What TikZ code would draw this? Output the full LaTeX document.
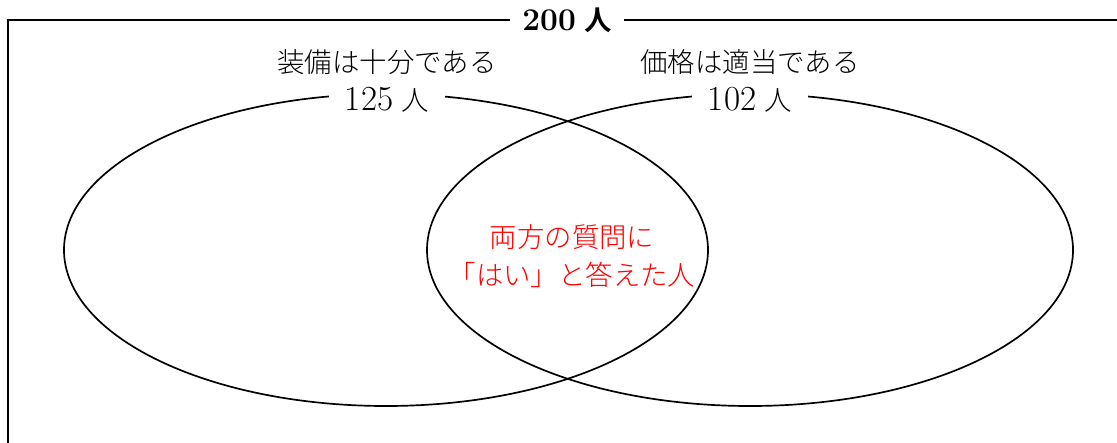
\documentclass[tikz,border=0pt]{standalone}
\usepackage{fontspec}
\newfontfamily\cjk{Noto Sans CJK JP}[UprightFont=* Light,BoldFont=* Bold]
\newcommand\numsize{\fontsize{25pt}{27pt}\selectfont}
\begin{document}
\begin{tikzpicture}[x=0.025cm,y=-0.025cm,line width=1.2pt]
            \useasboundingbox (0,0) rectangle (1117,442);
            \draw (8,450) -- (8,20) -- (1130,20);
            \draw (386,250) ellipse [x radius=322, y radius=156];
            \draw (750,250) ellipse [x radius=323, y radius=156];
            \begin{scope}[every node/.style={fill=white,inner xsep=11pt,font=\fontsize{19.5pt}{27pt}\selectfont}]
            \node[inner xsep=9pt] (all) at (567,20) {{\fontsize{22.5pt}{27pt}\selectfont\bfseries 200} {\cjk\bfseries 人}};
            \node (setA) at (387,100) {{\numsize 125} {\cjk 人}};
            \node (setB) at (750,100) {{\numsize 102} {\cjk 人}};
            \end{scope}
            \begin{scope}[every node/.style={font=\fontsize{19.5pt}{27pt}\selectfont\cjk}]
            \node (nameA) at (387,62) {装備は十分である};
            \node (nameB) at (750,62) {価格は適当である};
            \node[text=red,align=center] (both) at (572,256) {両方の質問に\\「はい」と答えた人};
            \end{scope}
        \end{tikzpicture}
\end{document}
